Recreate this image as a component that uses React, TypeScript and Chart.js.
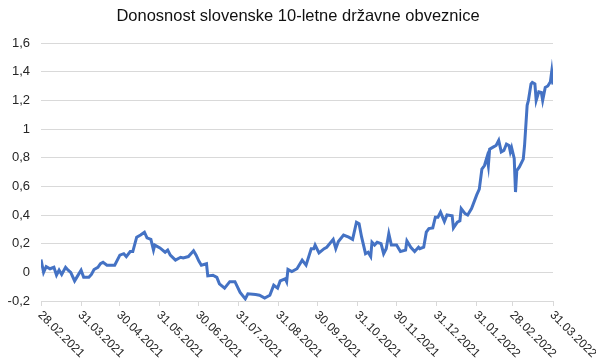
import React, { useEffect, useRef } from "react";
import { Chart, registerables } from "chart.js";

Chart.register(...registerables);

const titleText = "Donosnost slovenske 10-letne državne obveznice";

const tickLabels = [
  "28.02.2021", "31.03.2021", "30.04.2021", "31.05.2021", "30.06.2021",
  "31.07.2021", "31.08.2021", "30.09.2021", "31.10.2021", "30.11.2021",
  "31.12.2021", "31.01.2022", "28.02.2022", "31.03.2022",
];

const yTicks = [-0.2, 0, 0.2, 0.4, 0.6, 0.8, 1, 1.2, 1.4, 1.6];

// days since 28.02.2021
const days = [
  0, 2, 4, 7, 10, 12, 14, 16, 19, 21, 23, 26, 28, 31, 33, 37, 39, 41, 44, 46,
  48, 51, 57, 61, 64, 66, 69, 71, 74, 77, 80, 82, 85, 87, 88, 92, 96, 98, 100, 104,
  108, 110, 114, 118, 120, 122, 124, 128, 129, 133, 136, 138, 142, 146, 150, 154, 158, 160, 166, 169,
  173, 177, 180, 183, 185, 189, 190, 191, 194, 198, 202, 205, 209, 211, 212, 215, 219, 221, 226, 228,
  230, 234, 238, 241, 244, 246, 248, 251, 253, 255, 256, 258, 260, 263, 265, 267, 269, 271, 275, 278,
  282, 283, 286, 289, 292, 293, 296, 298, 300, 303, 305, 307, 309, 312, 314, 318, 319, 322, 324, 325,
  328, 330, 333, 337, 339, 341, 343, 345, 346, 347, 350, 352, 354, 356, 358, 360, 362, 363, 364, 366,
  367, 368, 370, 373, 374, 376, 377, 379, 380, 382, 383, 385, 387, 388, 390, 392, 394, 395, 396,
];

const yields = [
  0.09, 0.0, 0.04, 0.025, 0.035, -0.02, 0.015, -0.015, 0.035, 0.015, 0.0, -0.06, -0.03, 0.015, -0.035, -0.035, -0.015, 0.02, 0.035, 0.06,
  0.07, 0.05, 0.05, 0.12, 0.13, 0.11, 0.145, 0.145, 0.245, 0.26, 0.28, 0.24, 0.23, 0.155, 0.19, 0.17, 0.14, 0.155, 0.12, 0.085,
  0.105, 0.1, 0.11, 0.15, 0.12, 0.08, 0.05, 0.06, -0.025, -0.02, -0.035, -0.08, -0.11, -0.065, -0.065, -0.14, -0.185, -0.15, -0.155, -0.16,
  -0.18, -0.16, -0.09, -0.11, -0.06, -0.045, -0.065, 0.02, 0.005, 0.025, 0.085, 0.05, 0.165, 0.165, 0.19, 0.135, 0.165, 0.175, 0.23, 0.165,
  0.215, 0.26, 0.245, 0.23, 0.35, 0.34, 0.245, 0.13, 0.14, 0.11, 0.21, 0.19, 0.21, 0.2, 0.13, 0.165, 0.27, 0.19, 0.19, 0.145,
  0.155, 0.22, 0.175, 0.145, 0.175, 0.165, 0.175, 0.28, 0.305, 0.31, 0.385, 0.385, 0.42, 0.355, 0.4, 0.395, 0.31, 0.35, 0.36, 0.445,
  0.41, 0.4, 0.445, 0.54, 0.58, 0.72, 0.745, 0.805, 0.745, 0.86, 0.875, 0.885, 0.92, 0.84, 0.85, 0.895, 0.885, 0.84, 0.87, 0.795,
  0.56, 0.71, 0.735, 0.79, 0.885, 1.165, 1.2, 1.315, 1.325, 1.315, 1.2, 1.26, 1.255, 1.2, 1.29, 1.3, 1.33, 1.4, 1.31,
];

const parseDate = (s: string) => {
  const [d, m, y] = s.split(".").map(Number);
  return Date.UTC(y, m - 1, d);
};
const tickDays = tickLabels.map((s) => Math.round((parseDate(s) - parseDate(tickLabels[0])) / 86400000));

const fmt = (v: number) => String(Number(v.toFixed(1))).replace(".", ",");

export default function App() {
  const ref = useRef<HTMLCanvasElement | null>(null);
  useEffect(() => {
    if (!ref.current) return;
    const textColor = "#262626";
    const font = '"Liberation Sans", Arial, sans-serif';
    const overlay = {
      id: "overlay",
      afterDraw(chart: any) {
        const ctx = chart.ctx;
        const xs = chart.scales.x;
        ctx.save();
        ctx.fillStyle = "#111";
        ctx.font = `16.5px ${font}`;
        ctx.textAlign = "center";
        ctx.textBaseline = "middle";
        ctx.fillText(titleText, 298, 16);
        ctx.fillStyle = textColor;
        ctx.font = `12px ${font}`;
        ctx.textAlign = "left";
        ctx.textBaseline = "top";
        tickLabels.forEach((lab, i) => {
          const x = xs.getPixelForValue(tickDays[i]);
          ctx.save();
          ctx.translate(x + 3, 309);
          ctx.rotate(Math.PI / 4);
          ctx.fillText(lab, 0, 0);
          ctx.restore();
        });
        ctx.restore();
      },
    };
    const chart = new Chart(ref.current, {
      type: "line",
      data: {
        datasets: [
          {
            data: days.map((d, i) => ({ x: d, y: yields[i] })),
            borderColor: "#4472C4",
            borderWidth: 3,
            pointRadius: 0,
            tension: 0,
            fill: false,
          },
        ],
      },
      options: {
        animation: false,
        responsive: false,
        devicePixelRatio: 1,
        layout: { padding: { left: 8, right: 43, top: 43, bottom: 0 } },
        plugins: { legend: { display: false }, title: { display: false }, tooltip: { enabled: false } },
        scales: {
          x: {
            type: "linear",
            min: 0,
            max: tickDays[tickDays.length - 1],
            afterBuildTicks: (scale: any) => {
              scale.ticks = tickDays.map((v) => ({ value: v }));
            },
            afterFit: (scale: any) => {
              scale.height = 59;
            },
            ticks: { display: false },
            grid: { drawOnChartArea: false, drawTicks: true, tickLength: 5, color: "#d9d9d9" },
            border: { display: true, color: "#d9d9d9" },
          },
          y: {
            min: -0.2,
            max: 1.6,
            afterBuildTicks: (scale: any) => {
              scale.ticks = yTicks.map((v) => ({ value: v }));
            },
            afterFit: (scale: any) => {
              scale.width = 33;
            },
            ticks: {
              color: textColor,
              font: { family: font, size: 13 },
              padding: 11,
              callback: (v: any) => fmt(Number(v)),
            },
            grid: { color: "#d9d9d9", drawTicks: false },
            border: { display: false },
          },
        },
      },
      plugins: [overlay],
    });
    return () => chart.destroy();
  }, []);
  return (
    <div style={{ position: "absolute", left: 0, top: 0, width: 596, height: 360, background: "#fff" }}>
      <canvas ref={ref} width={596} height={360} />
    </div>
  );
}
